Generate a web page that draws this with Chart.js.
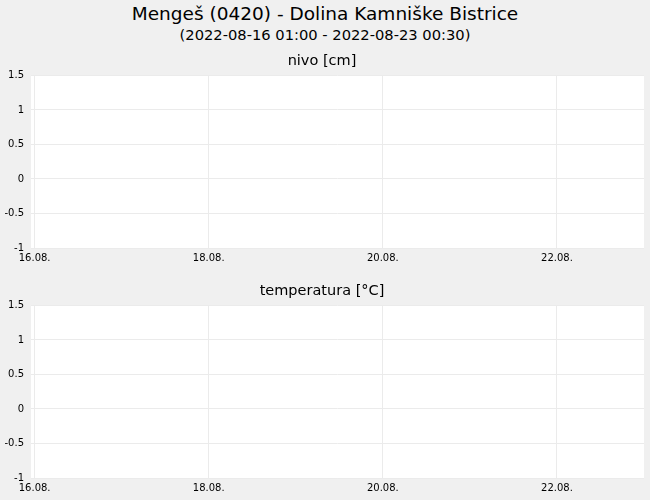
<!DOCTYPE html>
<html>
<head>
<meta charset="utf-8">
<script src="https://cdn.jsdelivr.net/npm/chart.js@4"></script>
<style>
    body { margin: 0; background: #f0f0f0; font-family: 'DejaVu Sans', sans-serif; }
    #page { position: relative; width: 650px; height: 500px; overflow: hidden; }
    .head { position: absolute; left: 0; width: 650px; text-align: center; color: #000; white-space: nowrap; }
    #mainTitle { top: 3px; font-size: 18.5px; }
    #subTitle { top: 26px; font-size: 14.7px; }
    .panel { position: absolute; left: 0; width: 650px; height: 225px; }
</style>
</head>
<body>
<div id="page">
    <div id="mainTitle" class="head">Mengeš (0420) - Dolina Kamniške Bistrice</div>
    <div id="subTitle" class="head">(2022-08-16 01:00 - 2022-08-23 00:30)</div>
    <div class="panel" style="top:45px"><canvas id="nivoChart"></canvas></div>
    <div class="panel" style="top:275px"><canvas id="tempChart"></canvas></div>
</div>
<script>
// hours counted from 2022-08-16 00:00
const xMinHours = -1;
const xMaxHours = 168;
const xTickHours = [0, 48, 96, 144];
const xTickLabels = ['16.08.', '18.08.', '20.08.', '22.08.'];

const yTicks = [-1, -0.5, 0, 0.5, 1, 1.5];

// no measurements in the period
const nivoTimes = [];
const nivoValues = [];
const tempTimes = [];
const tempValues = [];

const theme = {
    text: '#000000',
    grid: '#ebebeb',
    plotBg: '#ffffff',
    nivo: '#1f6fd1',
    temp: '#d13a1f'
};

Chart.defaults.color = theme.text;
Chart.defaults.font.family = "'DejaVu Sans', sans-serif";

const plotBackground = {
    id: 'plotBackground',
    beforeDraw(chart) {
        const { ctx, chartArea } = chart;
        ctx.save();
        ctx.fillStyle = theme.plotBg;
        ctx.fillRect(chartArea.left, chartArea.top, chartArea.right - chartArea.left, chartArea.bottom - chartArea.top);
        ctx.restore();
    }
};

function toPoints(times, values) {
    return times.map((t, i) => ({ x: t, y: values[i] }));
}

function makePanel(canvasId, titleText, times, values, color) {
    const ctx = document.getElementById(canvasId).getContext('2d');
    return new Chart(ctx, {
        type: 'line',
        data: {
            datasets: [{
                label: titleText,
                data: toPoints(times, values),
                borderColor: color,
                borderWidth: 1.5,
                pointRadius: 0,
                fill: false
            }]
        },
        options: {
            responsive: true,
            maintainAspectRatio: false,
            animation: false,
            layout: { padding: { left: 0, right: 6, top: 0, bottom: 0 } },
            plugins: {
                legend: { display: false },
                tooltip: { enabled: false },
                title: {
                    display: true,
                    text: titleText,
                    color: theme.text,
                    font: { size: 14.5, weight: 'normal' },
                    padding: { top: 8, bottom: 5 }
                }
            },
            scales: {
                x: {
                    type: 'linear',
                    min: xMinHours,
                    max: xMaxHours,
                    afterBuildTicks: (scale) => {
                        scale.ticks = xTickHours.map((v) => ({ value: v }));
                    },
                    afterFit: (scale) => {
                        scale.height = 22;
                    },
                    grid: { color: theme.grid, drawTicks: false },
                    border: { display: false },
                    ticks: {
                        autoSkip: false,
                        maxRotation: 0,
                        padding: 4,
                        font: { size: 10 },
                        callback: (value) => {
                            const idx = xTickHours.indexOf(value);
                            return idx >= 0 ? xTickLabels[idx] : '';
                        }
                    }
                },
                y: {
                    min: yTicks[0],
                    max: yTicks[yTicks.length - 1],
                    afterBuildTicks: (scale) => {
                        scale.ticks = yTicks.map((v) => ({ value: v }));
                    },
                    afterFit: (scale) => {
                        scale.width = 31;
                    },
                    grid: { color: theme.grid, drawTicks: false },
                    border: { display: false },
                    ticks: {
                        padding: 7,
                        font: { size: 10 },
                        callback: (value) => String(value)
                    }
                }
            }
        },
        plugins: [plotBackground]
    });
}

makePanel('nivoChart', 'nivo [cm]', nivoTimes, nivoValues, theme.nivo);
makePanel('tempChart', 'temperatura [°C]', tempTimes, tempValues, theme.temp);
</script>
</body>
</html>
